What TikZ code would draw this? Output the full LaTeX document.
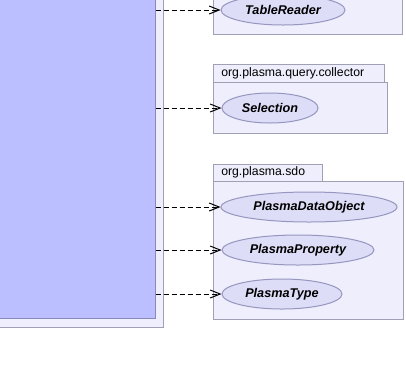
\documentclass[tikz,border=0pt]{standalone}
\usepackage{fontspec}
\setmainfont{Liberation Sans}
\usetikzlibrary{arrows.meta,shapes.geometric}

\definecolor{pkgfill}{RGB}{238,238,252}
\definecolor{pkgline}{RGB}{160,160,180}
\definecolor{clsfill}{RGB}{187,190,255}
\definecolor{clsline}{RGB}{136,136,187}
\definecolor{ucfill}{RGB}{221,221,248}
\definecolor{ucline}{RGB}{150,150,190}

\begin{document}
\begin{tikzpicture}[x=0.75pt,y=-0.75pt,
  pkg/.style={draw=pkgline,fill=pkgfill,line width=0.75pt},
  pkgname/.style={font=\fontsize{9.2}{11}\selectfont,anchor=west,inner sep=0pt},
  usecase/.style={ellipse,draw=ucline,fill=ucfill,line width=0.75pt,inner sep=0pt,
    minimum height=22.5pt,font=\fontsize{9.5}{11}\selectfont\bfseries\itshape},
  dep/.style={draw=black,line width=0.75pt,dash pattern=on 3.75pt off 2.25pt,
    -{Straight Barb[length=7.5pt,width=6pt]}}]

\useasboundingbox (0,0) rectangle (406,365);
\clip (0,0) rectangle (406,365);

% calling package and its class, cut by the page edge
\draw[pkg] (-10,-10) rectangle (163,327);
\node[draw=clsline,fill=clsfill,line width=0.75pt,inner sep=0pt,
  minimum width=124.5pt,minimum height=246.75pt,anchor=south east]
  (client) at (155.7,319) {};

% package holding TableReader
\draw[pkg] (213,-10) rectangle (402,34);
\node[usecase,minimum width=93pt] (tr) at (283,10) {TableReader};

% org.plasma.query.collector
\draw[pkg] (213,64) rectangle (384,82);
\node[pkgname] at (221,73.5) {org.plasma.query.collector};
\draw[pkg] (213,82) rectangle (387,133);
\node[usecase,minimum width=72pt] (sel) at (270,108) {Selection};

% org.plasma.sdo
\draw[pkg] (213,164) rectangle (322,181.5);
\node[pkgname] at (221,172.5) {org.plasma.sdo};
\draw[pkg] (213,181.5) rectangle (403,319);
\node[usecase,minimum width=132pt] (pdo) at (309,207) {PlasmaDataObject};
\node[usecase,minimum width=114pt] (pprop) at (298,250) {PlasmaProperty};
\node[usecase,minimum width=90pt] (ptype) at (282,294) {PlasmaType};

% dependencies
\foreach \target in {tr,sel,pdo,pprop,ptype}
  \draw[dep] (client.east |- \target.west) -- (\target.west);
\end{tikzpicture}
\end{document}
